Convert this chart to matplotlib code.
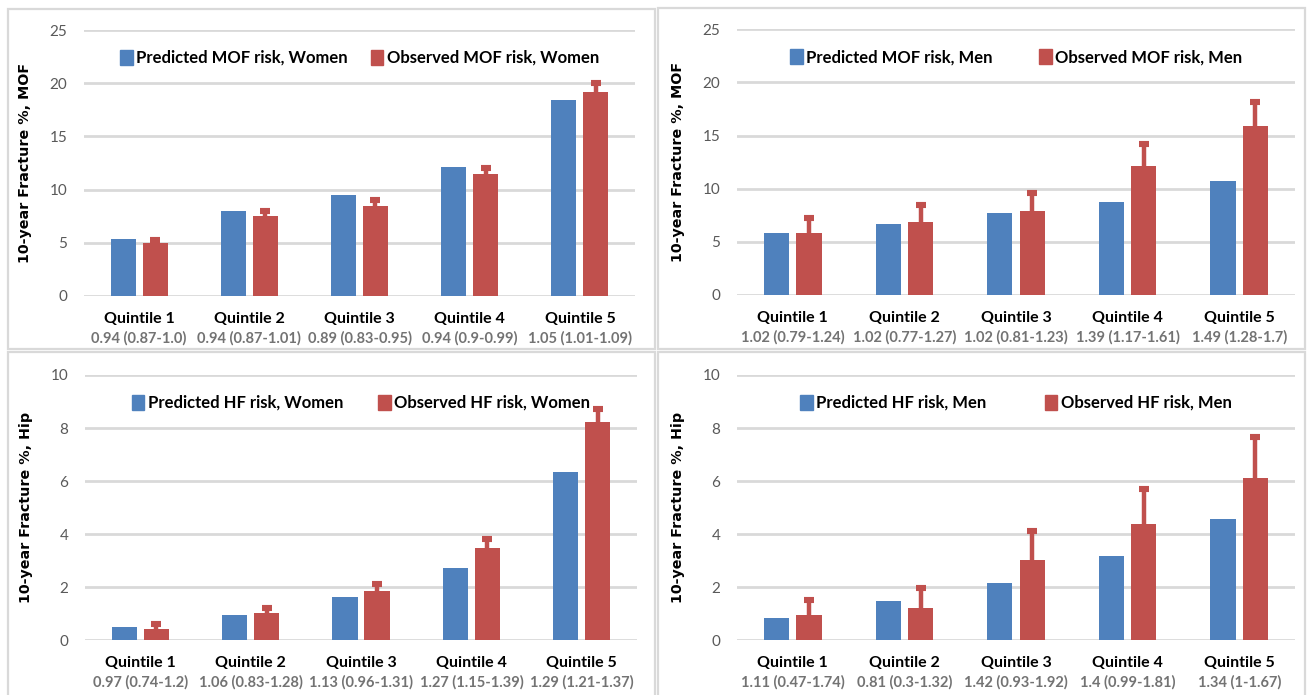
import matplotlib
matplotlib.use("Agg")
import matplotlib.pyplot as plt
from matplotlib.patches import Rectangle, Patch
import numpy as np

# ---------------- data ----------------
quintiles = ["Quintile 1", "Quintile 2", "Quintile 3", "Quintile 4", "Quintile 5"]

# MOF, Women
mof_w_pred = [5.33, 7.96, 9.52, 12.12, 18.39]
mof_w_obs = [4.95, 7.55, 8.46, 11.47, 19.14]
mof_w_upper = [5.3, 8.0, 9.0, 12.0, 20.0]
mof_w_ratio = ["0.94 (0.87-1.0)", "0.94 (0.87-1.01)", "0.89 (0.83-0.95)",
               "0.94 (0.9-0.99)", "1.05 (1.01-1.09)"]

# MOF, Men
mof_m_pred = [5.8, 6.7, 7.74, 8.78, 10.72]
mof_m_obs = [5.8, 6.84, 7.87, 12.17, 15.93]
mof_m_upper = [7.2, 8.5, 9.57, 14.17, 18.2]
mof_m_ratio = ["1.02 (0.79-1.24)", "1.02 (0.77-1.27)", "1.02 (0.81-1.23)",
               "1.39 (1.17-1.61)", "1.49 (1.28-1.7)"]

# HF, Women
hf_w_pred = [0.49, 0.97, 1.65, 2.74, 6.34]
hf_w_obs = [0.44, 1.02, 1.85, 3.47, 8.22]
hf_w_upper = [0.6, 1.2, 2.11, 3.82, 8.7]
hf_w_ratio = ["0.97 (0.74-1.2)", "1.06 (0.83-1.28)", "1.13 (0.96-1.31)",
              "1.27 (1.15-1.39)", "1.29 (1.21-1.37)"]

# HF, Men
hf_m_pred = [0.85, 1.48, 2.16, 3.17, 4.57]
hf_m_obs = [0.95, 1.22, 3.04, 4.4, 6.13]
hf_m_upper = [1.53, 1.96, 4.13, 5.72, 7.65]
hf_m_ratio = ["1.11 (0.47-1.74)", "0.81 (0.3-1.32)", "1.42 (0.93-1.92)",
              "1.4 (0.99-1.81)", "1.34 (1-1.67)"]

# ---------------- style ----------------
BLUE = "#4f81bd"
RED = "#c0504d"
GRID = "#d9d9d9"
TICK = "#595959"
RATIO = "#737373"
FONT = "Lato"

W, H = 1307, 695
fig = plt.figure(figsize=(W / 100, H / 100), dpi=100)
fig.patch.set_facecolor("white")

# panel borders (pixel boxes)
for (x0, y0, x1, y1) in [(8, 9, 655, 349), (658, 8, 1305, 349),
                         (8, 352, 655, 700), (658, 352, 1305, 700)]:
    fig.add_artist(Rectangle((x0 / W, 1 - y1 / H), (x1 - x0) / W, (y1 - y0) / H,
                             transform=fig.transFigure, fill=False,
                             edgecolor=GRID, linewidth=1.6))


def panel(rect, pred, obs, upper, ratios, ymax, ystep, ylabel,
          lab_pred, lab_obs, colspace):
    ax = fig.add_axes(rect)
    x = np.arange(len(quintiles))
    bw = 0.227
    off = 0.145
    ax.bar(x - off, pred, bw, color=BLUE, zorder=3, label=lab_pred)
    ax.bar(x + off, obs, bw, color=RED, zorder=3, label=lab_obs)
    obs_a = np.array(obs)
    up_a = np.array(upper)
    eb = ax.errorbar(x + off, obs_a, yerr=[np.zeros_like(obs_a), up_a - obs_a],
                     fmt="none", ecolor=RED, elinewidth=3.2, capsize=3.6,
                     capthick=4.4, zorder=4)
    # hide the lower caps (they sit on the bar top)
    eb[1][0].set_visible(False)
    ax.set_xlim(-0.5, len(quintiles) - 0.5)
    ax.set_ylim(0, ymax)
    ax.set_yticks(np.arange(0, ymax + 0.01, ystep))
    ax.yaxis.grid(True, color=GRID, linewidth=2.0, zorder=0)
    ax.set_axisbelow(True)
    for s in ax.spines.values():
        s.set_visible(False)
    ax.tick_params(axis="y", length=0, pad=12, labelcolor=TICK, labelsize=11)
    for lbl in ax.get_yticklabels():
        lbl.set_fontfamily(FONT)
    ax.set_xticks([])
    for i, (q, r) in enumerate(zip(quintiles, ratios)):
        ax.annotate(q, xy=(i, 0), xycoords=("data", "axes fraction"),
                    xytext=(0, -16.5), textcoords="offset points",
                    ha="center", va="center", fontsize=11.5, fontweight="bold",
                    color="black", family=FONT)
        ax.annotate(r, xy=(i, 0), xycoords=("data", "axes fraction"),
                    xytext=(0, -30.5), textcoords="offset points",
                    ha="center", va="center", fontsize=10.5, fontweight="bold",
                    color=RATIO, family=FONT)
    ax.set_ylabel(ylabel, fontsize=10.3, fontweight="bold",
                  family="DejaVu Sans", labelpad=13)
    handles = [Patch(color=BLUE), Patch(color=RED)]
    ax.legend(handles, [lab_pred, lab_obs], loc="center",
              bbox_to_anchor=(0.5, 0.895), ncol=2, frameon=False,
              handlelength=0.75, handleheight=1.0, handletextpad=0.2,
              columnspacing=colspace,
              prop={"family": FONT, "weight": "bold", "size": 12})
    return ax


def R(x0, x1, ytop, ybot):
    return [x0 / W, 1 - ybot / H, (x1 - x0) / W, (ybot - ytop) / H]


panel(R(84, 635, 30, 296), mof_w_pred, mof_w_obs, mof_w_upper, mof_w_ratio,
      25, 5, "10-year Fracture %, MOF",
      "Predicted MOF risk, Women", "Observed MOF risk, Women", 1.4)
panel(R(737, 1295, 29.3, 295), mof_m_pred, mof_m_obs, mof_m_upper, mof_m_ratio,
      25, 5, "10-year Fracture %, MOF",
      "Predicted MOF risk, Men", "Observed MOF risk, Men", 2.8)
panel(R(85, 637, 375, 640.3), hf_w_pred, hf_w_obs, hf_w_upper, hf_w_ratio,
      10, 2, "10-year Fracture %, Hip",
      "Predicted HF risk, Women", "Observed HF risk, Women", 2.1)
panel(R(737, 1295, 375, 640.3), hf_m_pred, hf_m_obs, hf_m_upper, hf_m_ratio,
      10, 2, "10-year Fracture %, Hip",
      "Predicted HF risk, Men", "Observed HF risk, Men", 3.5)

fig.savefig("out.png", dpi=100)
